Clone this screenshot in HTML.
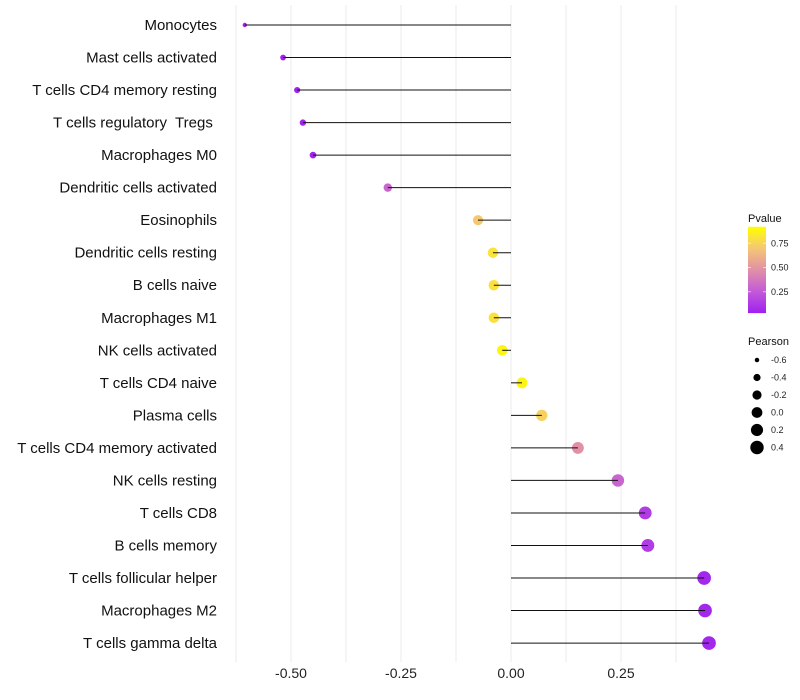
<!DOCTYPE html>
<html><head><meta charset="utf-8"><style>
body{margin:0;background:#fff;}
svg{display:block;font-family:"Liberation Sans",sans-serif;}
text{white-space:pre;}
</style></head><body>
<svg id="chart" width="800" height="700"></svg>
<script>
const categories=["Monocytes","Mast cells activated","T cells CD4 memory resting","T cells regulatory  Tregs ","Macrophages M0","Dendritic cells activated","Eosinophils","Dendritic cells resting","B cells naive","Macrophages M1","NK cells activated","T cells CD4 naive","Plasma cells","T cells CD4 memory activated","NK cells resting","T cells CD8","B cells memory","T cells follicular helper","Macrophages M2","T cells gamma delta"];
const pearson=[-0.605,-0.518,-0.486,-0.473,-0.45,-0.28,-0.075,-0.041,-0.039,-0.039,-0.02,0.025,0.07,0.152,0.243,0.305,0.311,0.439,0.441,0.45];
const pvalue=[0.01,0.01,0.01,0.01,0.01,0.3,0.76,0.88,0.87,0.87,0.96,0.95,0.8,0.5,0.3,0.12,0.12,0.03,0.03,0.03];
const xTicks=[-0.5,-0.25,0,0.25];
const xTickLabels=["-0.50","-0.25","0.00","0.25"];
const pTicks=[0.25,0.5,0.75];
const sizeTicks=[-0.6,-0.4,-0.2,0.0,0.2,0.4];

const NS="http://www.w3.org/2000/svg";
const svg=document.getElementById("chart");
function mk(t,a,p){const e=document.createElementNS(NS,t);for(const k in a)e.setAttribute(k,a[k]);(p||svg).appendChild(e);return e;}
const x=v=>511+v*440;
const y=i=>25+i*32.53;
const rScale=v=>Math.sqrt(5+(v+0.6)*40);
const stops=[[0,[160,32,240]],[0.25,[195,90,216]],[0.5,[225,144,168]],[0.75,[245,198,117]],[1,[255,255,0]]];
function col(p){for(let i=1;i<stops.length;i++){if(p<=stops[i][0]){const a=stops[i-1],b=stops[i];const t=(p-a[0])/(b[0]-a[0]);const c=a[1].map((v,k)=>Math.round(v+(b[1][k]-v)*t));return `rgb(${c.join(",")})`;}}return "rgb(255,255,0)";}

const grid=mk("g",{});


for(let v=-0.625;v<=0.4;v+=0.125){mk("line",{x1:x(v),x2:x(v),y1:5,y2:662,stroke:"#ebebeb","stroke-width":1},grid);}

xTicks.forEach((v,i)=>{const t=mk("text",{x:x(v),y:678,"text-anchor":"middle","font-size":14,fill:"#222"});t.textContent=xTickLabels[i];

});

categories.forEach((c,i)=>{
 const t=mk("text",{x:217,y:y(i)+5,"text-anchor":"end","font-size":15,fill:"#111"});t.textContent=c;
 
 
 const pt=mk("circle",{cx:x(pearson[i]),cy:y(i),r:rScale(pearson[i]),fill:col(pvalue[i])});
 
 
 const ln=mk("line",{x1:x(0),x2:x(pearson[i]),y1:y(i),y2:y(i),stroke:"#111","stroke-width":1});
 
 
});

const lg=mk("g",{});


let tt=mk("text",{x:748,y:222,"font-size":11,fill:"#111"},lg);tt.textContent="Pvalue";
const defs=mk("defs",{});
const gr=mk("linearGradient",{id:"pg",x1:0,y1:1,x2:0,y2:0},defs);
stops.forEach(s=>mk("stop",{offset:s[0],"stop-color":col(s[0])},gr));
const py=p=>316-p*97;
mk("rect",{x:748,y:py(0.92),width:18,height:py(0.03)-py(0.92),fill:"url(#pg)"},lg);
pTicks.forEach(p=>{mk("line",{x1:748,x2:751,y1:py(p),y2:py(p),stroke:"#fff","stroke-opacity":0.6},lg);mk("line",{x1:763,x2:766,y1:py(p),y2:py(p),stroke:"#fff","stroke-opacity":0.6},lg);
 const l=mk("text",{x:771,y:py(p)+3,"font-size":9,fill:"#222"},lg);l.textContent=p.toFixed(2);});
const sg=mk("g",{});


tt=mk("text",{x:748,y:345,"font-size":11,fill:"#111"},sg);tt.textContent="Pearson";
sizeTicks.forEach((v,i)=>{const cy=360+i*17.5;mk("circle",{cx:757,cy:cy,r:rScale(v),fill:"#000"},sg);
 const l=mk("text",{x:771,y:cy+3,"font-size":9,fill:"#222"},sg);l.textContent=v.toFixed(1);});
</script>
</body></html>
